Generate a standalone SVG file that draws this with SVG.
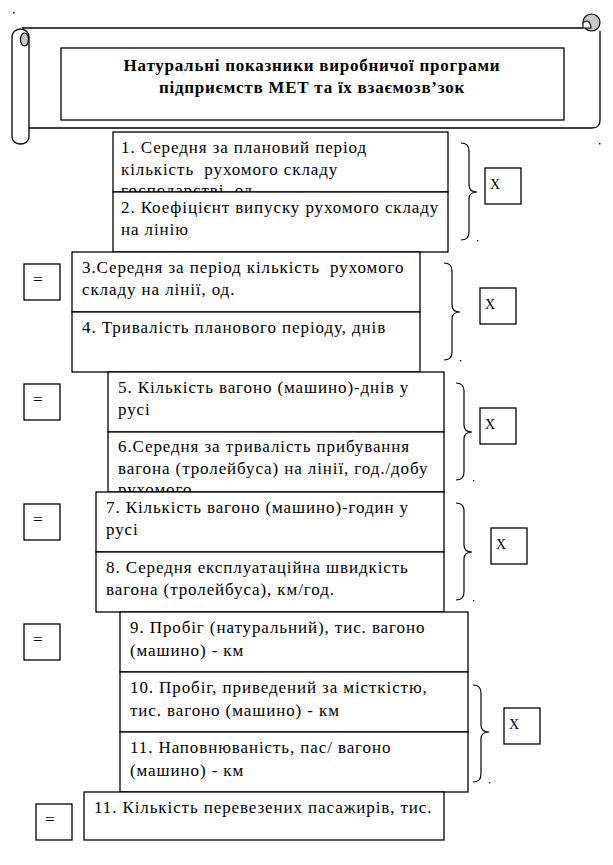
<svg xmlns="http://www.w3.org/2000/svg" width="613" height="865" viewBox="0 0 613 865">
<style>
.b{fill:#fff;stroke:#000;stroke-width:1.3}
.t{font-family:"Liberation Serif","Times New Roman",serif;font-size:17px;letter-spacing:0.9px;fill:#000;white-space:pre}
.h{font-family:"Liberation Serif","Times New Roman",serif;font-size:17px;font-weight:bold;letter-spacing:0.75px;fill:#000;text-anchor:middle}
.x{font-family:"Liberation Serif","Times New Roman",serif;font-size:14px;fill:#000}
.e{font-family:"Liberation Serif","Times New Roman",serif;font-size:17px;fill:#000}
.br{fill:none;stroke:#000;stroke-width:1.2}
.d{fill:#000}
</style>
<rect width="613" height="865" fill="#fff"/>
<g id="scroll">
<path d="M22,28 H583 M600,31 V120 Q600,128 592,128 H29" fill="none" stroke="#000" stroke-width="1.3"/>
<circle cx="591.5" cy="22.5" r="8.5" fill="#c8c8c8" stroke="#000" stroke-width="1.2"/>
<path d="M583,28 V23 Q586,19.5 589,22 Q591,25 591,28 Z" fill="#fff" stroke="#000" stroke-width="1.1"/>
<path d="M29,37 V137 A8.5,7 0 0 1 12,137 V37 A8.5,8 0 0 1 29,37 Z" fill="#fff" stroke="#000" stroke-width="1.3"/>
<ellipse cx="24.5" cy="39.5" rx="4" ry="6.5" fill="#c8c8c8" stroke="#000" stroke-width="1.1"/>
<rect x="13" y="12" width="1.5" height="1.5" class="d"/>
<rect x="599" y="143" width="1.5" height="1.5" class="d"/>
</g>
<g id="title">
<rect x="61" y="48" width="503" height="72" class="b"/>
<text class="h" x="312" y="71">Натуральні показники виробничої програми</text>
<text class="h" x="312" y="93">підприємств МЕТ та їх взаємозв’зок</text>
</g>
<g id="n1">
<rect x="113" y="132" width="335" height="60" class="b"/>
<text class="t" x="121" y="153">1. Середня за плановий період</text>
<text class="t" x="121" y="175" xml:space="preserve">кількість  рухомого складу</text>
<text class="t" x="121" y="196">господарстві, од.</text>
</g>
<g id="n2">
<rect x="113" y="192" width="335" height="60" class="b"/>
<text class="t" x="121" y="213">2. Коефіцієнт випуску рухомого складу</text>
<text class="t" x="121" y="235">на лінію</text>
</g>
<g id="n3">
<rect x="72" y="252" width="348" height="60" class="b"/>
<text class="t" x="82" y="273" xml:space="preserve">3.Середня за період кількість  рухомого</text>
<text class="t" x="82" y="295">складу на лінії, од.</text>
</g>
<g id="n4">
<rect x="72" y="312" width="348" height="60" class="b"/>
<text class="t" x="82" y="333">4. Тривалість планового періоду, днів</text>
</g>
<g id="n5">
<rect x="108" y="372" width="336" height="60" class="b"/>
<text class="t" x="118" y="393">5. Кількість вагоно (машино)-днів у</text>
<text class="t" x="118" y="415">русі</text>
</g>
<g id="n6">
<rect x="108" y="432" width="336" height="60" class="b"/>
<text class="t" x="118" y="452">6.Середня за тривалість прибування</text>
<text class="t" x="118" y="474">вагона (тролейбуса) на лінії, год./добу</text>
<text class="t" x="118" y="495">рухомого</text>
</g>
<g id="n7">
<rect x="96" y="492" width="348" height="60" class="b"/>
<text class="t" x="106" y="513">7. Кількість вагоно (машино)-годин у</text>
<text class="t" x="106" y="535">русі</text>
</g>
<g id="n8">
<rect x="96" y="552" width="348" height="60" class="b"/>
<text class="t" x="106" y="573">8. Середня експлуатаційна швидкість</text>
<text class="t" x="106" y="595">вагона (тролейбуса), км/год.</text>
</g>
<g id="n9">
<rect x="120" y="612" width="348" height="60" class="b"/>
<text class="t" x="130" y="633">9. Пробіг (натуральний), тис. вагоно</text>
<text class="t" x="130" y="656">(машино) - км</text>
</g>
<g id="n10">
<rect x="120" y="672" width="348" height="60" class="b"/>
<text class="t" x="130" y="693">10. Пробіг, приведений за місткістю,</text>
<text class="t" x="130" y="716">тис. вагоно (машино) - км</text>
</g>
<g id="n11">
<rect x="120" y="732" width="348" height="60" class="b"/>
<text class="t" x="130" y="753">11. Наповнюваність, пас/ вагоно</text>
<text class="t" x="130" y="776">(машино) - км</text>
</g>
<g id="n12">
<rect x="84" y="792" width="360" height="48" class="b"/>
<text class="t" x="94" y="813">11. Кількість перевезених пасажирів, тис.</text>
</g>
<g id="eq1"><rect x="24" y="264" width="36" height="36" class="b"/><text class="e" x="33" y="285">=</text></g>
<g id="eq2"><rect x="24" y="384" width="36" height="36" class="b"/><text class="e" x="33" y="405">=</text></g>
<g id="eq3"><rect x="24" y="504" width="36" height="36" class="b"/><text class="e" x="33" y="525">=</text></g>
<g id="eq4"><rect x="24" y="624" width="36" height="36" class="b"/><text class="e" x="33" y="645">=</text></g>
<g id="eq5"><rect x="36" y="804" width="36" height="36" class="b"/><text class="e" x="45" y="825">=</text></g>
<g id="x1"><rect x="485" y="168" width="36" height="36" class="b"/><text class="x" x="490" y="189">X</text></g>
<g id="x2"><rect x="480" y="288" width="36" height="36" class="b"/><text class="x" x="485" y="309">X</text></g>
<g id="x3"><rect x="480" y="408" width="36" height="36" class="b"/><text class="x" x="485" y="429">X</text></g>
<g id="x4"><rect x="491" y="528" width="36" height="36" class="b"/><text class="x" x="496" y="549">X</text></g>
<g id="x5"><rect x="504" y="708" width="36" height="36" class="b"/><text class="x" x="509" y="729">X</text></g>
<g id="connectors">
<path class="br" d="M461,143 Q469,143 469,151 V185 Q469,192 477,192 Q469,192 469,199 V232 Q469,240 461,240"/>
<path class="br" d="M444,263 Q452,263 452,271 V305 Q452,312 460,312 Q452,312 452,319 V352 Q452,360 444,360"/>
<path class="br" d="M456,383 Q464,383 464,391 V425 Q464,432 472,432 Q464,432 464,439 V472 Q464,480 456,480"/>
<path class="br" d="M456,503 Q464,503 464,511 V545 Q464,552 472,552 Q464,552 464,559 V592 Q464,600 456,600"/>
<path class="br" d="M473,685 Q481,685 481,693 V725 Q481,732 489,732 Q481,732 481,739 V774 Q481,782 473,782"/>
<rect x="477" y="240" width="1.3" height="1.3" class="d"/>
<rect x="460" y="360" width="1.3" height="1.3" class="d"/>
<rect x="473" y="480" width="1.3" height="1.3" class="d"/>
<rect x="473" y="600" width="1.3" height="1.3" class="d"/>
<rect x="489" y="782" width="1.3" height="1.3" class="d"/>
</g>
</svg>
